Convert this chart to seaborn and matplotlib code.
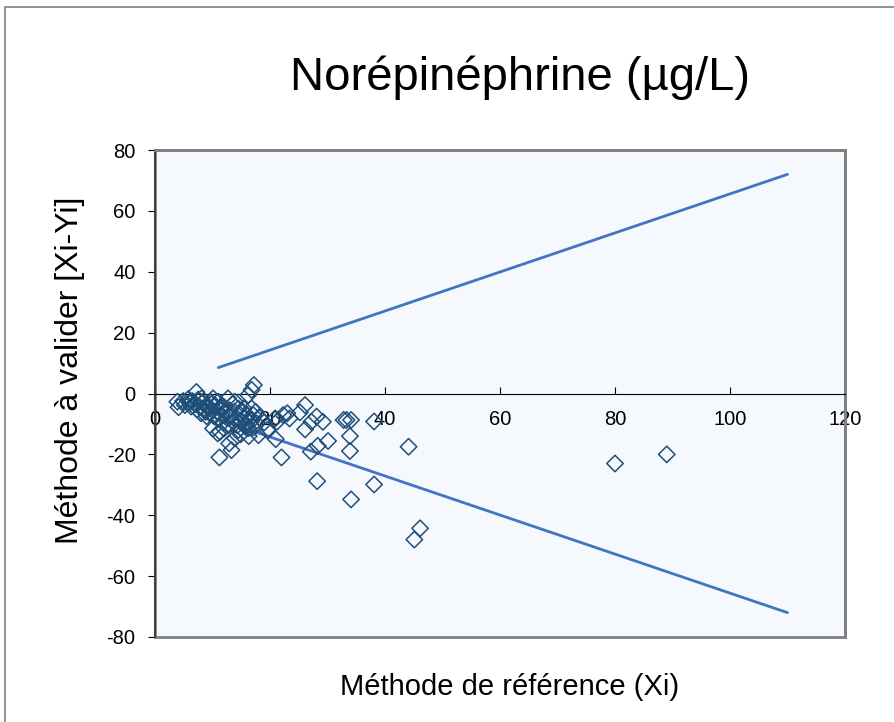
import numpy as np
import pandas as pd
import matplotlib.pyplot as plt
import matplotlib.patches as patches
import seaborn as sns

# Reference method values (Xi) and differences (Xi-Yi)
ref_x = [3.9, 4.1, 4.9, 5.8, 6.3, 7.2, 8.1, 10.1, 11.0,
         12.7, 13.9, 16.2, 16.8, 17.2, 15.4, 16.8, 17.1, 16.8, 17.7, 13.6,
         15.9, 17.1, 12.9, 13.9, 14.9, 16.2, 16.3, 18.0, 11.2, 13.3,
         10.9, 11.3, 10.1, 21.0, 22.0, 20.9, 21.2, 22.3, 23.0, 23.4,
         25.2, 26.1, 26.1, 27.2, 28.1, 29.2, 27.1, 28.3, 30.1, 28.2,
         32.8, 33.3, 34.1, 33.9, 33.9, 34.1, 38.1, 38.1, 44.1, 45.1,
         46.1, 80.0, 89.0,
         6.5, 7.0, 7.5, 7.8, 8.3, 8.5, 8.8, 9.0, 9.2, 9.5,
         9.7, 10.0, 10.3, 10.5, 10.8, 11.0, 11.3, 11.5, 11.8, 12.0,
         12.3, 12.5, 12.8, 13.0, 13.2, 13.5, 13.8, 14.0, 14.3, 14.5,
         14.8, 15.0, 15.3, 15.5, 15.8, 16.0, 16.5, 17.5, 18.2, 19.0,
         9.0, 8.0, 12.0, 14.5, 19.5, 5.2, 6.0, 7.3, 9.8, 11.6]
diff_y = [-2.7, -4.5, -2.5, -1.8, -4.3, 0.5, -1.6, -1.6, -2.7,
          -1.6, -2.7, -0.5, 1.2, 2.8, -4.9, -4.9, -7.1, -9.0, -9.8, -9.3,
          -10.4, -11.2, -16.4, -14.7, -13.4, -11.4, -14.0, -13.7, -21.0, -18.6,
          -13.1, -12.6, -11.5, -15.0, -21.0, -8.2, -9.3, -7.1, -6.5, -8.2,
          -6.2, -3.8, -11.8, -9.3, -7.6, -9.3, -19.1, -17.2, -15.6, -28.8,
          -8.7, -8.7, -8.7, -14.0, -18.9, -34.8, -9.2, -29.9, -17.5, -48.0,
          -44.3, -23.0, -20.0,
          -2.5, -3.5, -2.0, -4.5, -3.0, -5.0, -6.0, -3.8, -4.8, -6.5,
          -2.8, -5.5, -7.5, -4.0, -6.0, -8.5, -5.0, -7.0, -9.5, -4.5,
          -6.5, -8.0, -10.5, -5.5, -7.5, -3.5, -6.0, -8.5, -10.5, -5.0,
          -7.0, -9.0, -6.0, -8.0, -11.0, -7.0, -8.5, -6.0, -8.0, -9.5,
          -7.5, -6.5, -11.5, -12.0, -12.0, -3.8, -3.0, -5.2, -3.5, -4.2]

# Acceptance limits
limit_x = [11, 110]
upper_y = [8.5, 72]
lower_y = [-8.5, -72]

points = pd.DataFrame({"x": ref_x, "y": diff_y})
upper = pd.DataFrame({"x": limit_x, "y": upper_y})
lower = pd.DataFrame({"x": limit_x, "y": lower_y})

sns.set_style("white")
plt.rcParams['font.family'] = ['Liberation Sans', 'DejaVu Sans']
plt.rcParams['axes.unicode_minus'] = False
plt.rcParams['text.color'] = "black"
plt.rcParams['xtick.color'] = "black"
plt.rcParams['ytick.color'] = "black"

fig = plt.figure(figsize=(8.95, 7.22), dpi=100)
ax = fig.add_axes([155 / 895, 1 - 637 / 722, 690 / 895, 487 / 722])
ax.set_facecolor("#F5F9FD")

sns.lineplot(data=upper, x="x", y="y", ax=ax, color="#4472C4", linewidth=2)
sns.lineplot(data=lower, x="x", y="y", ax=ax, color="#4472C4", linewidth=2)
sns.scatterplot(data=points, x="x", y="y", ax=ax, marker="D", s=70,
                facecolor="none", edgecolor="#1F4E79", linewidth=1.1, zorder=3)

ax.set_xlim(0, 120)
ax.set_ylim(-80, 80)
ax.set_xticks(np.arange(0, 121, 20))
ax.set_yticks(np.arange(-80, 81, 20))
ax.set_xlabel("")
ax.set_ylabel("")

# x axis drawn at y = 0
ax.spines['bottom'].set_position(('data', 0))
ax.spines['bottom'].set_color("black")
ax.spines['left'].set_color("#404040")
ax.spines['left'].set_linewidth(1.5)
ax.spines['top'].set_color("#808080")
ax.spines['right'].set_color("#808080")
ax.spines['top'].set_linewidth(2)
ax.spines['right'].set_linewidth(2)
ax.add_patch(patches.Rectangle((0, 0), 1, 1, transform=ax.transAxes, fill=False,
                               edgecolor="#808080", linewidth=2, clip_on=False, zorder=0.5))

ax.tick_params(axis='x', direction='in', length=5, pad=12, labelsize=14.5)
ax.tick_params(axis='y', direction='out', length=5, pad=9, labelsize=14.5)
ax.tick_params(left=True, bottom=True)

fig.text(0.581, 0.893, "Norépinéphrine (µg/L)", ha='center', va='center', fontsize=34)
fig.text(0.569, 0.048, "Méthode de référence (Xi)", ha='center', va='center', fontsize=21)
fig.text(0.078, 0.4875, "Méthode à valider [Xi-Yi]", ha='center', va='center',
         fontsize=23, rotation=90)

# outer chart border
fig.patches.append(patches.Rectangle((5 / 895, -0.1), 1.1, 1 - 7 / 722 + 0.1,
                                     transform=fig.transFigure, fill=False,
                                     edgecolor="#808080", linewidth=1.2))

fig.savefig("out.png", dpi=100)
